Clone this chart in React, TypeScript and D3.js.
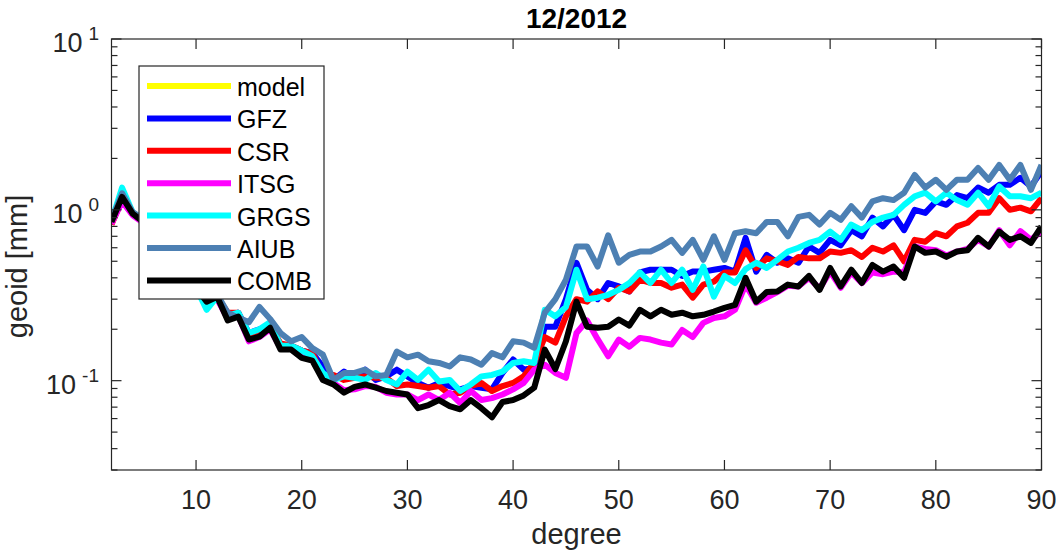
import React from "react";
import * as d3 from "d3";

const degrees: number[] = Array.from({ length: 89 }, (_, i) => i + 2);

const seriesNames = ["model", "GFZ", "CSR", "ITSG", "GRGS", "AIUB", "COMB"];
const seriesColors = ["#ffff00", "#0000ff", "#ff0000", "#ff00ff", "#00ffff", "#4d80b3", "#000000"];

const modelValues: number[] = [];

const gfzValues = [0.85, 1.2, 0.95, 0.86, 0.74, 0.63, 0.53, 0.43, 0.36, 0.30,
  0.31, 0.24, 0.25, 0.19, 0.20, 0.21, 0.16, 0.16, 0.15, 0.145,
  0.121, 0.101, 0.113, 0.104, 0.116, 0.101, 0.106, 0.116, 0.106, 0.097,
  0.091, 0.097, 0.093, 0.089, 0.093, 0.091, 0.089, 0.111, 0.133, 0.116,
  0.119, 0.207, 0.207, 0.30, 0.49, 0.34, 0.30, 0.373, 0.356, 0.333,
  0.43, 0.446, 0.446, 0.446, 0.41, 0.435, 0.435, 0.446, 0.457, 0.435,
  0.686, 0.435, 0.545, 0.49, 0.52, 0.49, 0.61, 0.56, 0.667, 0.62,
  0.76, 0.70, 0.90, 0.80, 0.935, 0.76, 1.0, 0.96, 1.12, 1.07,
  1.22, 1.17, 1.35, 1.26, 1.4, 1.4, 1.54, 1.37, 1.68];

const csrValues = [0.82, 1.15, 0.94, 0.85, 0.73, 0.63, 0.53, 0.43, 0.36, 0.30,
  0.31, 0.25, 0.25, 0.18, 0.19, 0.21, 0.165, 0.16, 0.15, 0.145,
  0.106, 0.108, 0.101, 0.104, 0.106, 0.104, 0.104, 0.093, 0.095, 0.093,
  0.091, 0.093, 0.083, 0.085, 0.093, 0.097, 0.087, 0.093, 0.097, 0.106,
  0.127, 0.18, 0.167, 0.238, 0.30, 0.29, 0.333, 0.30, 0.35, 0.333,
  0.39, 0.373, 0.373, 0.35, 0.365, 0.306, 0.365, 0.38, 0.43, 0.43,
  0.58, 0.457, 0.52, 0.50, 0.476, 0.53, 0.52, 0.52, 0.57, 0.56,
  0.58, 0.53, 0.60, 0.57, 0.62, 0.50, 0.667, 0.65, 0.73, 0.70,
  0.80, 0.84, 0.96, 0.96, 1.17, 1.0, 1.03, 0.98, 1.17];

const itsgValues = [0.83, 1.12, 0.93, 0.84, 0.72, 0.62, 0.52, 0.42, 0.35, 0.29,
  0.30, 0.23, 0.24, 0.17, 0.18, 0.20, 0.155, 0.155, 0.14, 0.133,
  0.104, 0.097, 0.088, 0.089, 0.093, 0.092, 0.085, 0.083, 0.083, 0.077,
  0.083, 0.077, 0.085, 0.074, 0.087, 0.077, 0.079, 0.083, 0.089, 0.097,
  0.116, 0.124, 0.111, 0.104, 0.19, 0.225, 0.175, 0.139, 0.174, 0.158,
  0.178, 0.174, 0.167, 0.163, 0.198, 0.18, 0.218, 0.233, 0.238, 0.26,
  0.365, 0.286, 0.306, 0.33, 0.36, 0.356, 0.40, 0.345, 0.435, 0.35,
  0.43, 0.373, 0.43, 0.42, 0.435, 0.43, 0.61, 0.59, 0.58, 0.54,
  0.57, 0.59, 0.667, 0.61, 0.76, 0.62, 0.75, 0.667, 0.75];

const grgsValues = [0.86, 1.35, 0.97, 0.87, 0.74, 0.63, 0.53, 0.43, 0.35, 0.26,
  0.31, 0.24, 0.25, 0.19, 0.20, 0.22, 0.16, 0.16, 0.15, 0.139,
  0.111, 0.101, 0.106, 0.104, 0.101, 0.111, 0.101, 0.095, 0.113, 0.101,
  0.116, 0.099, 0.101, 0.087, 0.095, 0.106, 0.108, 0.113, 0.127, 0.13,
  0.127, 0.26, 0.238, 0.27, 0.446, 0.30, 0.306, 0.318, 0.34, 0.373,
  0.43, 0.373, 0.446, 0.373, 0.446, 0.34, 0.466, 0.31, 0.41, 0.373,
  0.45, 0.49, 0.457, 0.51, 0.57, 0.60, 0.64, 0.667, 0.746, 0.667,
  0.82, 0.76, 0.85, 0.90, 0.935, 1.07, 1.2, 1.26, 1.12, 1.26,
  1.14, 1.07, 1.26, 1.05, 1.37, 1.2, 1.2, 1.17, 1.26];

const aiubValues = [0.87, 1.25, 0.97, 0.88, 0.76, 0.65, 0.55, 0.45, 0.37, 0.31,
  0.32, 0.25, 0.234, 0.22, 0.27, 0.23, 0.19, 0.17, 0.18, 0.155,
  0.142, 0.101, 0.111, 0.111, 0.116, 0.106, 0.108, 0.148, 0.137, 0.142,
  0.13, 0.127, 0.121, 0.137, 0.133, 0.124, 0.145, 0.137, 0.17, 0.167,
  0.156, 0.25, 0.30, 0.39, 0.61, 0.61, 0.466, 0.71, 0.49, 0.545,
  0.57, 0.57, 0.61, 0.667, 0.56, 0.667, 0.51, 0.70, 0.51, 0.73,
  0.75, 0.73, 0.85, 0.85, 0.70, 0.91, 0.935, 0.82, 0.96, 0.874,
  1.05, 0.90, 1.12, 1.17, 1.14, 1.26, 1.6, 1.35, 1.5, 1.31,
  1.5, 1.5, 1.76, 1.5, 1.83, 1.5, 1.83, 1.31, 1.83];

const combValues = [0.85, 1.19, 0.95, 0.85, 0.72, 0.62, 0.52, 0.42, 0.35, 0.29,
  0.31, 0.225, 0.237, 0.174, 0.181, 0.204, 0.152, 0.152, 0.136, 0.131,
  0.101, 0.095, 0.085, 0.092, 0.095, 0.091, 0.087, 0.085, 0.083, 0.069,
  0.072, 0.077, 0.071, 0.068, 0.077, 0.069, 0.061, 0.075, 0.077, 0.082,
  0.091, 0.152, 0.117, 0.17, 0.29, 0.207, 0.204, 0.207, 0.228, 0.21,
  0.26, 0.238, 0.26, 0.243, 0.25, 0.238, 0.243, 0.254, 0.267, 0.278,
  0.40, 0.29, 0.33, 0.333, 0.365, 0.356, 0.41, 0.34, 0.457, 0.356,
  0.446, 0.373, 0.476, 0.435, 0.466, 0.40, 0.61, 0.56, 0.57, 0.53,
  0.57, 0.58, 0.686, 0.61, 0.746, 0.667, 0.70, 0.64, 0.80];

const xTickValues = [10, 20, 30, 40, 50, 60, 70, 80, 90];
const yMajorTicks = [0.1, 1, 10];
const yExponents = ["-1", "0", "1"];

const titleText = "12/2012";
const xLabelText = "degree";
const yLabelText = "geoid [mm]";

const W = 1056;
const H = 556;
const M = { left: 111.5, right: 1041.5, top: 39, bottom: 470 };
const FONT = "'Liberation Sans', Arial, Helvetica, sans-serif";
const AX = "#262626";

export default function App() {
  const x = d3.scaleLinear().domain([2, 90]).range([M.left, M.right]);
  const y = d3.scaleLog().domain([0.03, 10]).range([M.bottom, M.top]);
  const allSeries = [modelValues, gfzValues, csrValues, itsgValues, grgsValues, aiubValues, combValues];

  const line = d3
    .line<number>()
    .x((_, i) => x(degrees[i]))
    .y((v) => y(v));

  const minorTicks = y.ticks().filter((t) => !yMajorTicks.some((m) => Math.abs(m - t) < 1e-9));

  const legX = 139, legY = 66, legW = 185, legH = 233;
  const rowH = 32.4;

  return (
    <svg width={W} height={H} style={{ position: "absolute", left: 0, top: 0, background: "#fff" }} fontFamily={FONT}>
      <rect x={0} y={0} width={W} height={H} fill="#fff" />
      <defs>
        <clipPath id="plotclip">
          <rect x={M.left} y={M.top} width={M.right - M.left} height={M.bottom - M.top} />
        </clipPath>
      </defs>
      <g clipPath="url(#plotclip)">
        {allSeries.map((vals, si) =>
          vals.length ? (
            <path key={si} d={line(vals) || ""} fill="none" stroke={seriesColors[si]} strokeWidth={6} strokeLinejoin="round" strokeLinecap="butt" />
          ) : null
        )}
      </g>
      <rect x={M.left} y={M.top} width={M.right - M.left} height={M.bottom - M.top} fill="none" stroke={AX} strokeWidth={1.2} />
      {xTickValues.map((t) => (
        <g key={"xt" + t}>
          <line x1={x(t)} x2={x(t)} y1={M.bottom} y2={M.bottom - 10} stroke={AX} strokeWidth={1.2} />
          <line x1={x(t)} x2={x(t)} y1={M.top} y2={M.top + 10} stroke={AX} strokeWidth={1.2} />
          <text x={x(t)} y={M.bottom + 39} textAnchor="middle" fontSize={27} fill={AX}>{t}</text>
        </g>
      ))}
      {yMajorTicks.map((t, i) => (
        <g key={"ym" + t}>
          <line x1={M.left} x2={M.left + 10} y1={y(t)} y2={y(t)} stroke={AX} strokeWidth={1.2} />
          <line x1={M.right} x2={M.right - 10} y1={y(t)} y2={y(t)} stroke={AX} strokeWidth={1.2} />
          <text x={99} y={y(t) + 13} textAnchor="end" fontSize={27} fill={AX}>
            <tspan>10</tspan>
            <tspan dx={6} dy={-12} fontSize={19}>{yExponents[i]}</tspan>
          </text>
        </g>
      ))}
      {minorTicks.map((t) => (
        <g key={"yn" + t}>
          <line x1={M.left} x2={M.left + 6} y1={y(t)} y2={y(t)} stroke={AX} strokeWidth={1.2} />
          <line x1={M.right} x2={M.right - 6} y1={y(t)} y2={y(t)} stroke={AX} strokeWidth={1.2} />
        </g>
      ))}
      <text x={(M.left + M.right) / 2} y={28} textAnchor="middle" fontSize={28} fontWeight="bold" fill="#000">{titleText}</text>
      <text x={(M.left + M.right) / 2} y={544} textAnchor="middle" fontSize={29} fill={AX}>{xLabelText}</text>
      <text transform={`translate(27,${(M.top + M.bottom) / 2 + 12}) rotate(-90)`} textAnchor="middle" fontSize={29} fill={AX}>{yLabelText}</text>
      <rect x={legX} y={legY} width={legW} height={legH} fill="#fff" stroke={AX} strokeWidth={1.2} />
      {seriesNames.map((name, i) => {
        const cy = legY + 20 + i * rowH;
        return (
          <g key={name}>
            <line x1={147} x2={231} y1={cy} y2={cy} stroke={seriesColors[i]} strokeWidth={6} />
            <text x={237} y={cy + 10} fontSize={25} fill="#000">{name}</text>
          </g>
        );
      })}
    </svg>
  );
}
